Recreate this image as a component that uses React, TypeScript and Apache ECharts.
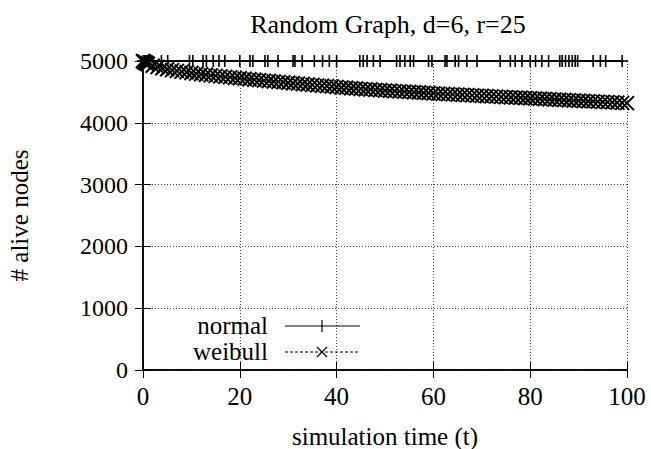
import React, { useEffect, useRef } from "react";
import * as echarts from "echarts";

const title = "Random Graph, d=6, r=25";
const xName = "simulation time (t)";
const yName = "# alive nodes";
const xTicks = [0, 20, 40, 60, 80, 100];
const yTicks = [0, 1000, 2000, 3000, 4000, 5000];

// "normal": no node dies, recorded at irregular event times
const normalTimes = [
  0, 0.3, 0.6, 0.9, 3.8, 5.1, 9.6, 10.3, 12.4, 13.1, 14.5, 15.7, 16.9, 20.0,
  22.1, 22.7, 25.2, 25.8, 27.9, 31.0, 31.4, 32.9, 35.4, 37.1, 38.5, 40.0,
  44.8, 45.5, 46.3, 47.6, 49.0, 52.4, 53.1, 54.1, 55.2, 55.9, 59.0, 59.7,
  62.4, 62.8, 64.5, 65.2, 66.9, 69.0, 73.8, 75.9, 76.9, 78.3, 80.0, 81.1,
  82.4, 83.8, 86.1, 86.6, 87.3, 88.0, 88.7, 89.3, 89.8, 93.0, 94.5, 95.6, 99.0,
];
const normalValues = normalTimes.map(() => 5000);

const weibullTimes = [
  0, 0.1, 0.2, 0.3, 0.4, 0.5, 0.6, 0.7, 0.8, 0.9,
  1, 2, 3, 4, 5, 6, 7, 8, 9, 10, 11, 12, 13, 14, 15, 16, 17, 18, 19, 20,
  21, 22, 23, 24, 25, 26, 27, 28, 29, 30, 31, 32, 33, 34, 35, 36, 37, 38, 39, 40,
  41, 42, 43, 44, 45, 46, 47, 48, 49, 50, 51, 52, 53, 54, 55, 56, 57, 58, 59, 60,
  61, 62, 63, 64, 65, 66, 67, 68, 69, 70, 71, 72, 73, 74, 75, 76, 77, 78, 79, 80,
  81, 82, 83, 84, 85, 86, 87, 88, 89, 90, 91, 92, 93, 94, 95, 96, 97, 98, 99, 100,
];
const weibullValues = [
  5000, 4993, 4988, 4983, 4978, 4974, 4970, 4965, 4960, 4956,
  4952, 4924, 4902, 4883, 4867, 4853, 4840, 4828, 4817, 4806,
  4796, 4786, 4777, 4768, 4759, 4751, 4743, 4735, 4727, 4720,
  4712, 4704, 4697, 4690, 4683, 4676, 4669, 4662, 4655, 4648,
  4641, 4634, 4627, 4620, 4613, 4606, 4600, 4593, 4587, 4578,
  4572, 4566, 4560, 4555, 4549, 4544, 4538, 4533, 4528, 4523,
  4518, 4513, 4508, 4504, 4499, 4494, 4490, 4485, 4481, 4476,
  4472, 4468, 4464, 4460, 4456, 4452, 4448, 4444, 4440, 4436,
  4432, 4428, 4424, 4420, 4416, 4412, 4408, 4405, 4401, 4398,
  4394, 4390, 4386, 4382, 4378, 4374, 4370, 4366, 4362, 4358,
  4354, 4350, 4346, 4342, 4338, 4334, 4330, 4326, 4322, 4318,
];

const FONT = "Liberation Serif";
const PLUS = "path://M5,0L5,10M0,5L10,5";
const CROSS = "path://M0,0L10,10M0,10L10,0";

export default function App() {
  const ref = useRef<HTMLDivElement>(null);
  useEffect(() => {
    if (!ref.current) return;
    const chart = echarts.init(ref.current, null, { renderer: "svg" });
    const axisCommon = {
      type: "value",
      axisLine: { show: true, lineStyle: { color: "#000", width: 1.5 } },
      axisTick: { show: true, inside: true, length: 8, lineStyle: { color: "#000", width: 1 } },
    };
    const txt = { fontFamily: FONT, fontSize: 25, color: "#000" };
    chart.setOption({
      animation: false,
      backgroundColor: "#fff",
      textStyle: { fontFamily: FONT },
      title: {
        text: title,
        left: 383,
        top: 6,
        textAlign: "center",
        textStyle: { ...txt, fontSize: 26, fontWeight: "normal" },
      },
      grid: { left: 143, right: 24, top: 61, bottom: 79, containLabel: false, outerBoundsMode: "none" },
      xAxis: [
        {
          ...axisCommon,
          position: "bottom",
          min: 0,
          max: 100,
          interval: 20,
          name: xName,
          nameLocation: "middle",
          nameGap: 54,
          nameTextStyle: txt,
          axisLabel: { ...txt, margin: 14, formatter: (v: number) => (xTicks.includes(v) ? String(v) : "") },
          splitLine: { show: true, lineStyle: { color: "#444", type: [1, 2], width: 1 } },
        },
        {
          ...axisCommon,
          position: "top",
          min: 0,
          max: 100,
          interval: 20,
          axisLabel: { show: false },
          splitLine: { show: false },
        },
      ],
      yAxis: [
        {
          ...axisCommon,
          position: "left",
          min: 0,
          max: 5000,
          interval: 1000,
          name: yName,
          nameLocation: "middle",
          nameGap: 111,
          nameTextStyle: txt,
          axisLabel: { ...txt, fontSize: 24, margin: 15, formatter: (v: number) => (yTicks.includes(v) ? String(v) : "") },
          splitLine: { show: true, lineStyle: { color: "#444", type: [1, 2], width: 1 } },
        },
        {
          ...axisCommon,
          position: "right",
          min: 0,
          max: 5000,
          interval: 1000,
          axisLabel: { show: false },
          splitLine: { show: false },
        },
      ],
      series: [
        {
          name: "normal",
          type: "line",
          data: normalTimes.map((t, i) => [t, normalValues[i]]),
          symbol: PLUS,
          symbolSize: 12,
          showSymbol: true,
          showAllSymbol: true,
          lineStyle: { color: "#000", width: 1.8 },
          itemStyle: { color: "#000", borderColor: "#000", borderWidth: 1.6 },
          emphasis: { disabled: true },
          z: 3,
        },
        {
          name: "weibull",
          type: "line",
          data: weibullTimes.map((t, i) => [t, weibullValues[i]]),
          symbol: CROSS,
          symbolSize: 14,
          showSymbol: true,
          showAllSymbol: true,
          lineStyle: { color: "#000", width: 1, type: [3, 2] },
          itemStyle: { color: "#000", borderColor: "#000", borderWidth: 2 },
          emphasis: { disabled: true },
          z: 2,
        },
      ],
      graphic: [
        { type: "text", x: 268, y: 325, style: { text: "normal", font: `25px "${FONT}"`, fill: "#000", align: "right", verticalAlign: "middle" }, z: 10 },
        { type: "line", shape: { x1: 285, y1: 326, x2: 360, y2: 326 }, style: { stroke: "#000", lineWidth: 1 }, z: 10 },
        { type: "line", shape: { x1: 322, y1: 320, x2: 322, y2: 332 }, style: { stroke: "#000", lineWidth: 1.2 }, z: 10 },
        { type: "text", x: 268, y: 351, style: { text: "weibull", font: `25px "${FONT}"`, fill: "#000", align: "right", verticalAlign: "middle" }, z: 10 },
        { type: "line", shape: { x1: 285, y1: 352, x2: 360, y2: 352 }, style: { stroke: "#000", lineWidth: 1, lineDash: [3, 2] }, z: 10 },
        { type: "line", shape: { x1: 317, y1: 347, x2: 327, y2: 357 }, style: { stroke: "#000", lineWidth: 1.2 }, z: 10 },
        { type: "line", shape: { x1: 317, y1: 357, x2: 327, y2: 347 }, style: { stroke: "#000", lineWidth: 1.2 }, z: 10 },
      ],
    });
    return () => chart.dispose();
  }, []);
  return <div ref={ref} style={{ width: 651, height: 449, position: "absolute", left: 0, top: 0 }} />;
}
